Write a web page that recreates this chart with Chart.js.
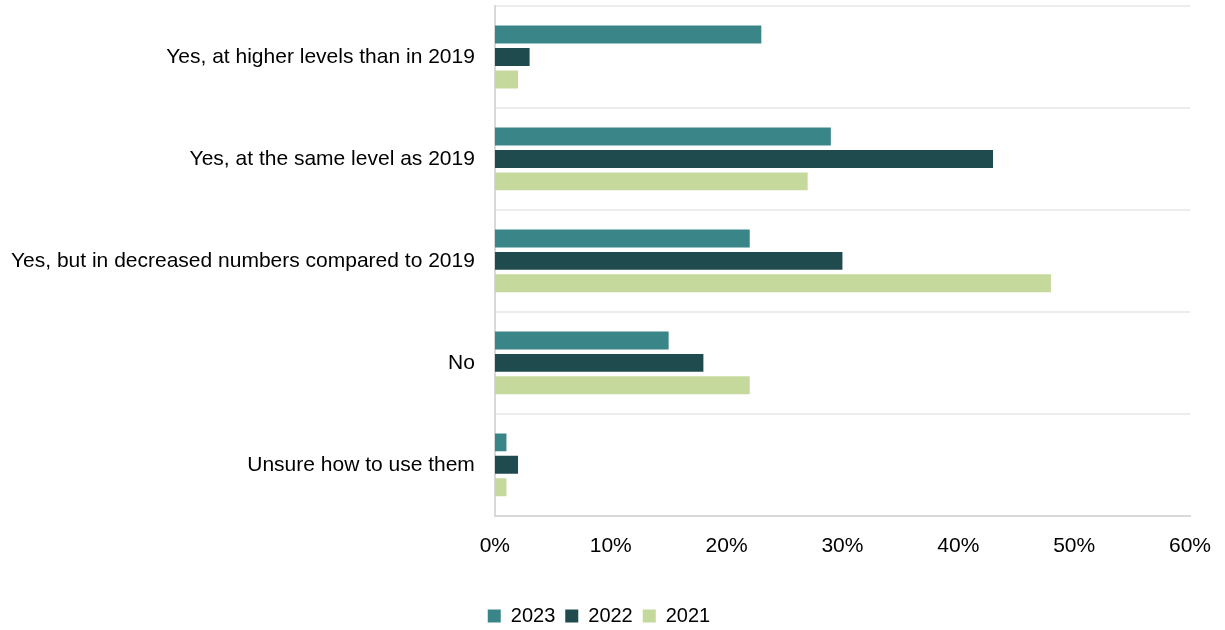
<!DOCTYPE html>
<html>
<head>
<meta charset="utf-8">
<script src="https://cdn.jsdelivr.net/npm/chart.js@4.4.1/dist/chart.umd.min.js"></script>
<style>
    html, body { margin: 0; padding: 0; background: #fff; }
    #wrap { width: 1225px; height: 630px; overflow: hidden; }
    #inner { width: 1225px; height: 636px; }
</style>
</head>
<body>
<div id="wrap"><div id="inner"><canvas id="bar"></canvas></div></div>
<script>
var categories = [
    "Yes, at higher levels than in 2019",
    "Yes, at the same level as 2019",
    "Yes, but in decreased numbers compared to 2019",
    "No",
    "Unsure how to use them"
];
var years = ["2023", "2022", "2021"];
var values2023 = [23, 29, 22, 15, 1];
var values2022 = [3, 43, 30, 18, 2];
var values2021 = [2, 27, 48, 22, 1];
var xTicks = [0, 10, 20, 30, 40, 50, 60];

var barColors = ["#3a8588", "#1f4b4f", "#c6d99d"];

Chart.defaults.font.family = "'Liberation Sans', Arial, sans-serif";
Chart.defaults.font.size = 21;
Chart.defaults.color = "#000";

new Chart("bar", {
    type: "bar",
    data: {
        labels: categories,
        datasets: [
            { label: years[0], data: values2023, backgroundColor: barColors[0] },
            { label: years[1], data: values2022, backgroundColor: barColors[1] },
            { label: years[2], data: values2021, backgroundColor: barColors[2] }
        ]
    },
    options: {
        indexAxis: "y",
        responsive: true,
        maintainAspectRatio: false,
        animation: false,
        datasets: {
            bar: { categoryPercentage: 0.66, barPercentage: 0.8 }
        },
        layout: { padding: { left: 8, right: 35, top: 6, bottom: 0 } },
        scales: {
            x: {
                min: 0,
                max: 60,
                afterBuildTicks: function (axis) {
                    axis.ticks = xTicks.map(function (v) { return { value: v }; });
                },
                afterFit: function (axis) {
                    axis.height += 19;
                    axis.paddingRight = 0;
                    axis.paddingLeft = 0;
                },
                grid: { display: false, drawTicks: false },
                border: { display: true, color: "#d9d9d9", width: 2 },
                ticks: {
                    padding: 18,
                    callback: function (v) { return v + "%"; }
                }
            },
            y: {
                afterFit: function (axis) {
                    axis.width -= 17;
                    axis.paddingTop = 0;
                    axis.paddingBottom = 0;
                },
                grid: { display: true, color: "#ececec", lineWidth: 2, drawTicks: false, offset: true },
                border: { display: true, color: "#d9d9d9", width: 2 },
                ticks: { padding: 20 }
            }
        },
        plugins: {
            legend: {
                position: "bottom",
                labels: { boxWidth: 13, boxHeight: 13, padding: 10, font: { size: 20 } }
            },
            tooltip: { enabled: false }
        }
    }
});
</script>
</body>
</html>
